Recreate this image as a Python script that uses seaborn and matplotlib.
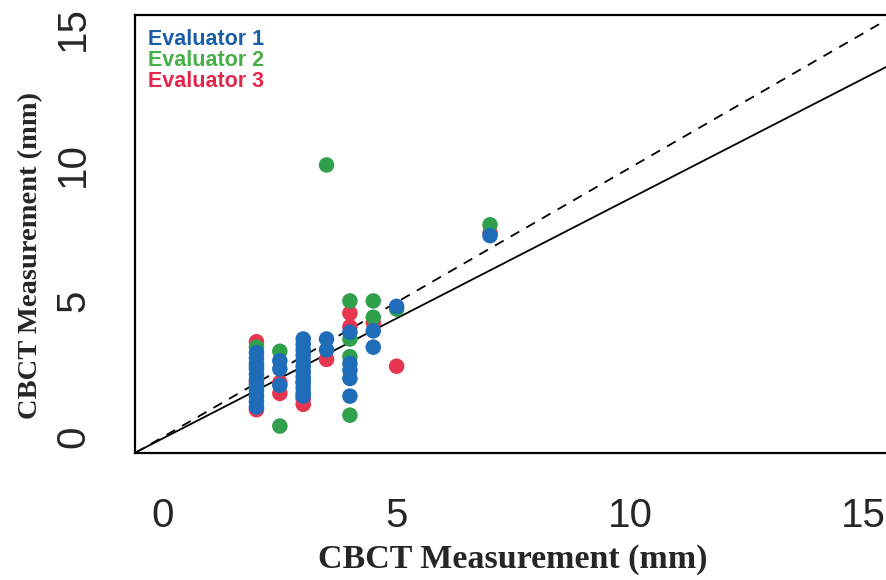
import numpy as np     # For numerical operations
import pandas as pd    # For data manipulation
import matplotlib
matplotlib.use("Agg")
import matplotlib.pyplot as plt  # For visualizations
import seaborn as sns  # For enhanced visualizations

# =========================
# CBCT AGREEMENT SCATTER
# =========================

# Evaluator 1 (blue)
eval1_x = [2, 2, 2, 2, 2, 2, 2, 2, 2, 2, 2,
           2.5, 2.5, 2.5,
           3, 3, 3, 3, 3, 3, 3, 3, 3, 3, 3, 3,
           3.5, 3.5,
           4, 4, 4, 4, 4,
           4.5, 4.5,
           5, 7]
eval1_y = [1.1, 1.3, 1.5, 1.7, 1.9, 2.1, 2.3, 2.5, 2.7, 2.9, 3.1,
           2.8, 2.5, 1.9,
           3.6, 3.4, 3.2, 3.0, 2.8, 2.6, 2.4, 2.2, 2.0, 1.8, 1.6, 1.5,
           3.6, 3.2,
           3.85, 2.7, 2.45, 2.15, 1.5,
           3.9, 3.3,
           4.8, 7.4]

# Evaluator 2 (green)
eval2_x = [2, 2, 2, 2.5, 2.5, 3, 3.5, 4, 4, 4, 4, 4.5, 4.5, 5, 7]
eval2_y = [3.3, 2.6, 1.8, 3.15, 0.4, 2.0, 10.0, 5.0, 3.6, 2.95, 0.8, 5.0, 4.4, 4.7, 7.8]

# Evaluator 3 (red)
eval3_x = [2, 2, 2, 2.5, 2.5, 3, 3, 3.5, 4, 4, 4.5, 5, 7]
eval3_y = [3.5, 2.0, 1.0, 2.0, 1.6, 1.2, 1.4, 2.85, 4.55, 4.05, 4.2, 2.6, 7.5]

evaluators = ["Evaluator 1", "Evaluator 2", "Evaluator 3"]
point_colors = ["#1f6cb8", "#30a04c", "#e83650"]
legend_colors = ["#1a5ea8", "#47ae4a", "#e2294d"]

# Reference lines
identity_slope, identity_intercept = 0.99, 0.0
fit_slope, fit_intercept = 0.882, -0.05

ticks = [0, 5, 10, 15]


def build_frame():
    """Stack the three evaluators, drawing evaluator 3 first so 1 lands on top."""
    parts = []
    for name, xs, ys in zip(evaluators[::-1],
                            [eval3_x, eval2_x, eval1_x],
                            [eval3_y, eval2_y, eval1_y]):
        parts.append(pd.DataFrame({"cbct_x": xs, "cbct_y": ys, "evaluator": name}))
    return pd.concat(parts, ignore_index=True)


def main():
    sns.set_style("white")
    plt.rcParams["font.family"] = ["Liberation Sans", "DejaVu Sans"]

    df = build_frame()
    fig = plt.figure(figsize=(8.86, 5.8), dpi=100)
    ax = fig.add_axes([0.1524, 0.219, 0.852, 0.755])

    sns.scatterplot(data=df, x="cbct_x", y="cbct_y", hue="evaluator",
                    hue_order=evaluators, palette=point_colors,
                    s=125, linewidth=0, legend=False, ax=ax, zorder=3)

    ax.axline((0, identity_intercept), slope=identity_slope, color="black",
              lw=1.3, ls=(0, (5.5, 4.5)), zorder=2)
    ax.axline((0, fit_intercept), slope=fit_slope, color="black",
              lw=1.3, zorder=2)

    ax.set_xlim(-0.6, 15.56)
    ax.set_ylim(-0.59, 15.51)
    ax.set_xticks(ticks)
    ax.set_yticks(ticks)
    ax.tick_params(axis="x", length=14, width=1.3, labelsize=29, pad=18)
    ax.tick_params(axis="y", length=14, width=1.3, labelsize=29, pad=17,
                   labelrotation=90)
    for lab in ax.get_yticklabels():
        lab.set_va("center")
    for side in ax.spines.values():
        side.set_linewidth(1.6)
        side.set_color("black")

    ax.set_xlabel("CBCT Measurement (mm)", family="Liberation Serif",
                  weight="bold", fontsize=24.5, labelpad=6)
    ax.set_ylabel("CBCT Measurement (mm)", family="Liberation Serif",
                  weight="bold", fontsize=20.5, labelpad=10)
    ax.yaxis.set_label_coords(-0.122, 0.45)

    # Text-only legend in the top-left corner
    for i, (name, col) in enumerate(zip(evaluators, legend_colors)):
        ax.text(0.017, 0.944 - i * 0.048, name, transform=ax.transAxes,
                color=col, fontsize=15.5, weight="bold", va="center", ha="left")

    fig.savefig("out.png", dpi=100)


if __name__ == "__main__":
    main()
